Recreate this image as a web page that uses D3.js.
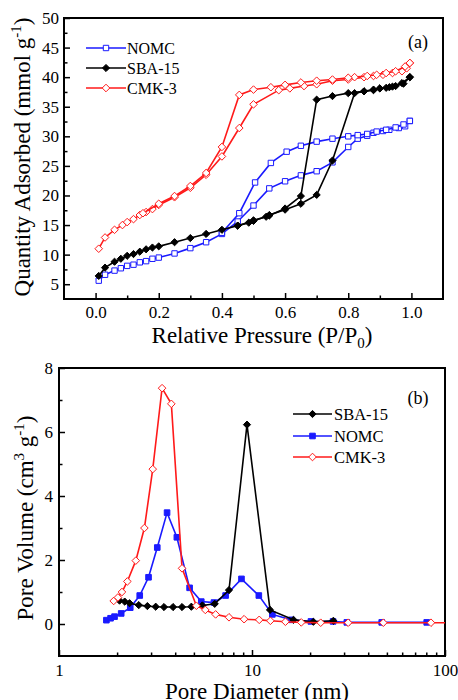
<!DOCTYPE html>
<html>
<head>
  <meta charset="UTF-8" />
  <title>Isotherms and pore size</title>
  <script src="https://d3js.org/d3.v7.min.js"></script>
  <style>
    body { margin: 0; background: #fff; }
    svg text { font-family: "Liberation Serif", "DejaVu Serif", "Times New Roman", serif !important; fill: #000; }
  </style>
</head>
<body>
<div id="chart"></div>

<script>
  // ---- panel (a): N2 isotherms, [P/P0, quantity] ----
  var nomcAds = [[0.01,5.6],[0.03,6.6],[0.06,7.3],[0.08,7.7],[0.10,8.1],[0.12,8.3],[0.14,8.7],[0.16,8.9],[0.18,9.3],[0.20,9.5],
    [0.25,10.2],[0.30,11.1],[0.35,12.1],[0.40,13.5],[0.45,15.6],[0.50,18.3],[0.55,21.2],[0.60,22.4],[0.65,23.4],[0.70,24.1],
    [0.75,25.6],[0.80,28.2],[0.83,29.6],[0.86,30.1],[0.88,30.6],[0.91,30.9],[0.93,31.1],[0.96,31.4],[0.98,31.7],[0.995,32.6]];
  var nomcDes = [[0.995,32.6],[0.975,32.0],[0.95,31.5],[0.92,31.1],[0.89,30.8],[0.86,30.4],[0.83,30.2],[0.80,30.0],[0.75,29.6],
    [0.70,29.1],[0.65,28.4],[0.605,27.4],[0.555,25.5],[0.505,22.2],[0.455,17.0],[0.40,13.7]];

  var sbaAds = [[0.01,6.4],[0.03,7.8],[0.06,8.8],[0.08,9.3],[0.10,9.8],[0.12,10.1],[0.14,10.5],[0.16,10.9],[0.18,11.2],[0.20,11.4],
    [0.25,12.1],[0.30,12.8],[0.35,13.5],[0.40,14.2],[0.45,14.9],[0.485,15.4],[0.50,15.8],[0.54,16.4],[0.55,16.7],[0.60,17.6],
    [0.65,18.6],[0.70,20.1],[0.75,25.9],[0.82,37.3],[0.85,37.6],[0.88,37.9],[0.90,38.1],[0.92,38.2],[0.94,38.4],[0.95,38.5],
    [0.975,38.9],[0.995,40.0]];
  var sbaDes = [[0.995,40.0],[0.97,39.0],[0.93,38.3],[0.90,38.1],[0.88,37.8],[0.85,37.6],[0.80,37.3],[0.75,36.8],[0.70,36.2],
    [0.65,19.9],[0.60,17.8],[0.55,16.6],[0.50,15.7],[0.45,14.9]];

  var cmkAds = [[0.01,11.0],[0.03,12.9],[0.06,14.2],[0.085,15.0],[0.10,15.5],[0.12,16.0],[0.14,16.7],[0.16,17.2],[0.18,17.7],
    [0.20,18.4],[0.25,19.7],[0.30,21.3],[0.35,23.5],[0.40,26.6],[0.455,31.4],[0.50,35.4],[0.58,37.8],[0.615,38.1],[0.66,38.5],
    [0.70,38.8],[0.75,39.4],[0.80,39.6],[0.85,40.0],[0.88,40.2],[0.91,40.4],[0.94,40.7],[0.97,41.0],[0.985,41.5],[0.995,42.4]];
  var cmkDes = [[0.995,42.4],[0.98,41.8],[0.95,41.0],[0.92,40.7],[0.89,40.4],[0.86,40.2],[0.82,40.0],[0.80,39.9],[0.75,39.6],
    [0.70,39.4],[0.65,39.1],[0.60,38.7],[0.555,38.3],[0.50,37.9],[0.455,37.0],[0.40,28.2],[0.35,23.8],[0.30,21.6],[0.25,19.9],
    [0.20,18.6],[0.15,17.0]];

  // ---- panel (b): pore size distribution, [diameter nm, volume] ----
  var sbaPsd = [[2.06,0.73],[2.19,0.70],[2.32,0.65],[2.59,0.59],[2.87,0.56],[3.17,0.54],[3.50,0.53],[3.90,0.53],[4.34,0.53],
    [4.85,0.54],[5.53,0.58],[6.41,0.63],[7.60,1.06],[9.42,6.23],[12.4,0.44],[16.4,0.13],[20.8,0.07],[26.4,0.10]];
  var nomcPsd = [[1.76,0.12],[1.85,0.18],[1.94,0.23],[2.10,0.33],[2.34,0.51],[2.62,0.89],[2.91,1.46],[3.23,2.39],[3.63,3.48],
    [4.08,2.71],[4.75,1.13],[5.46,0.70],[6.35,0.67],[7.3,0.89],[8.82,1.41],[10.85,0.89],[12.75,0.30],[16.0,0.13],[20.2,0.08],
    [26.3,0.08],[31.0,0.05],[47.0,0.05],[80.4,0.05]];
  var cmkPsd = [[1.92,0.72],[2.02,0.83],[2.12,1.0],[2.26,1.33],[2.5,1.98],[2.77,3.0],[3.06,4.84],[3.42,7.37],[3.82,6.88],
    [4.34,1.74],[5.15,0.57],[5.73,0.44],[6.48,0.30],[7.6,0.21],[9.1,0.15],[10.9,0.13],[12.45,0.10],[14.9,0.07],[18.0,0.05],
    [22.7,0.04],[31.5,0.04],[47.9,0.04],[84.6,0.04],[120,0.04]];

  var ticksA_x = [0, 0.2, 0.4, 0.6, 0.8, 1.0];
  var ticksA_y = [5, 10, 15, 20, 25, 30, 35, 40, 45, 50];
  var ticksB_x = [1, 10, 100];
  var ticksB_y = [0, 2, 4, 6, 8];

  var BLUE = "#1a1aff", RED = "#ff1a1a", BLACK = "#000";

  const svg = d3.select("#chart").append("svg")
    .attr("width", 458).attr("height", 700);

  // marker shapes
  function shapePath(shape, s) {
    if (shape == "square") return "M" + (-s) + "," + (-s) + "h" + (2 * s) + "v" + (2 * s) + "h" + (-2 * s) + "Z";
    return "M0," + (-s) + "L" + s + ",0L0," + s + "L" + (-s) + ",0Z";
  }

  function drawSeries(g, data, x, y, color, shape, open, size) {
    var line = d3.line().x(d => x(d[0])).y(d => y(d[1]));
    g.append("path").datum(data)
      .attr("d", line).attr("fill", "none")
      .attr("stroke", color).attr("stroke-width", 1.6);
    g.selectAll(null).data(data).enter().append("path")
      .attr("transform", d => "translate(" + x(d[0]) + "," + y(d[1]) + ")")
      .attr("d", shapePath(shape, size))
      .attr("fill", open ? "#fff" : color)
      .attr("stroke", color).attr("stroke-width", 1);
  }

  function frame(left, right, top, bottom, id) {
    svg.append("clipPath").attr("id", id).append("rect")
      .attr("x", left).attr("y", top).attr("width", right - left).attr("height", bottom - top);
    return svg.append("g").attr("clip-path", "url(#" + id + ")");
  }

  function axes(x, y, left, right, top, bottom, xt, xminor, yt, yminor, fmtX, fmtY, padX, padY) {
    svg.append("g").attr("transform", "translate(0," + bottom + ")")
      .call(d3.axisBottom(x).tickValues(xt).tickSize(-6).tickPadding(padX).tickFormat(fmtX));
    svg.append("g").attr("transform", "translate(0," + bottom + ")")
      .call(d3.axisBottom(x).tickValues(xminor).tickSize(-3.5).tickFormat(""));
    svg.append("g").attr("transform", "translate(" + left + ",0)")
      .call(d3.axisLeft(y).tickValues(yt).tickSize(-6).tickPadding(padY).tickFormat(fmtY));
    svg.append("g").attr("transform", "translate(" + left + ",0)")
      .call(d3.axisLeft(y).tickValues(yminor).tickSize(-3.5).tickFormat(""));
    svg.selectAll(".domain").remove();
    svg.selectAll(".tick line").attr("stroke", "#000").attr("stroke-width", 1.5);
    svg.selectAll(".tick text").style("font-size", "17px");
    svg.append("rect").attr("x", left).attr("y", top)
      .attr("width", right - left).attr("height", bottom - top)
      .attr("fill", "none").attr("stroke", "#000").attr("stroke-width", 2);
  }

  function legend(items, x0, x1, tx, ys, fs) {
    items.forEach(function (it, i) {
      var yy = ys[i];
      svg.append("line").attr("x1", x0).attr("x2", x1).attr("y1", yy).attr("y2", yy)
        .attr("stroke", it.color).attr("stroke-width", 1.6);
      svg.append("path").attr("transform", "translate(" + ((x0 + x1) / 2) + "," + yy + ")")
        .attr("d", shapePath(it.shape, it.size))
        .attr("fill", it.open ? "#fff" : it.color).attr("stroke", it.color);
      svg.append("text").attr("x", tx).attr("y", yy).attr("dy", "0.35em")
        .style("font-size", fs + "px").text(it.name);
    });
  }

  // ===== panel (a) =====
  var aL = 64, aR = 443, aT = 18, aB = 299;
  var xA = d3.scaleLinear().domain([-0.1, 1.1]).range([aL, aR]);
  var yA = d3.scaleLinear().domain([2.5, 50]).range([aB, aT]);

  axes(xA, yA, aL, aR, aT, aB, ticksA_x, [0.1, 0.3, 0.5, 0.7, 0.9], ticksA_y,
    [7.5, 12.5, 17.5, 22.5, 27.5, 32.5, 37.5, 42.5, 47.5], d3.format(".1f"), d3.format("d"), 7, 5);

  var plotA = frame(aL, aR, aT, aB, "clipA");
  drawSeries(plotA, cmkAds, xA, yA, RED, "diamond", true, 3.8);
  drawSeries(plotA, cmkDes, xA, yA, RED, "diamond", true, 3.8);
  drawSeries(plotA, nomcAds, xA, yA, BLUE, "square", true, 2.7);
  drawSeries(plotA, nomcDes, xA, yA, BLUE, "square", true, 2.7);
  drawSeries(plotA, sbaAds, xA, yA, BLACK, "diamond", false, 3.6);
  drawSeries(plotA, sbaDes, xA, yA, BLACK, "diamond", false, 3.6);

  legend([
    { name: "NOMC", color: BLUE, shape: "square", open: true, size: 2.7 },
    { name: "SBA-15", color: BLACK, shape: "diamond", open: false, size: 3.6 },
    { name: "CMK-3", color: RED, shape: "diamond", open: true, size: 3.8 }
  ], 86, 126, 127, [48, 68, 88], 16);

  svg.append("text").attr("x", 418).attr("y", 48).attr("text-anchor", "middle")
    .style("font-size", "18px").text("(a)");

  var xtA = svg.append("text").attr("x", 262).attr("y", 343).attr("text-anchor", "middle")
    .style("font-size", "23px");
  xtA.append("tspan").text("Relative Pressure (P/P");
  xtA.append("tspan").attr("dy", 5).style("font-size", "15px").text("0");
  xtA.append("tspan").attr("dy", -5).text(")");

  var ytA = svg.append("text").attr("transform", "translate(30,157) rotate(-90)")
    .attr("text-anchor", "middle").style("font-size", "23px");
  ytA.append("tspan").text("Quantity Adsorbed (mmol g");
  ytA.append("tspan").attr("dy", -9).style("font-size", "15px").text("-1");
  ytA.append("tspan").attr("dy", 9).text(")");

  // ===== panel (b) =====
  var bL = 59, bR = 445, bT = 368, bB = 656;
  var xB = d3.scaleLog().domain([1, 100]).range([bL, bR]);
  var yB = d3.scaleLinear().domain([-1, 8]).range([bB, bT]);

  axes(xB, yB, bL, bR, bT, bB, ticksB_x, [2, 3, 4, 5, 6, 7, 8, 9, 20, 30, 40, 50, 60, 70, 80, 90],
    ticksB_y, [1, 3, 5, 7], d3.format("d"), d3.format("d"), 8, 6);

  var plotB = frame(bL, bR, bT, bB, "clipB");
  drawSeries(plotB, nomcPsd, xB, yB, BLUE, "square", false, 2.8);
  drawSeries(plotB, sbaPsd, xB, yB, BLACK, "diamond", false, 3.6);
  drawSeries(plotB, cmkPsd, xB, yB, RED, "diamond", true, 3.8);

  legend([
    { name: "SBA-15", color: BLACK, shape: "diamond", open: false, size: 3.6 },
    { name: "NOMC", color: BLUE, shape: "square", open: false, size: 2.8 },
    { name: "CMK-3", color: RED, shape: "diamond", open: true, size: 3.8 }
  ], 293, 332, 334, [414, 436, 457], 16.5);

  svg.append("text").attr("x", 418).attr("y", 404).attr("text-anchor", "middle")
    .style("font-size", "18px").text("(b)");

  svg.append("text").attr("x", 257).attr("y", 699).attr("text-anchor", "middle")
    .style("font-size", "23px").text("Pore Diameter (nm)");

  var ytB = svg.append("text").attr("transform", "translate(33,518) rotate(-90)")
    .attr("text-anchor", "middle").style("font-size", "23px");
  ytB.append("tspan").text("Pore Volume (cm");
  ytB.append("tspan").attr("dy", -9).style("font-size", "15px").text("3");
  ytB.append("tspan").attr("dy", 9).text(" g");
  ytB.append("tspan").attr("dy", -9).style("font-size", "15px").text("-1");
  ytB.append("tspan").attr("dy", 9).text(")");
</script>
</body>
</html>
